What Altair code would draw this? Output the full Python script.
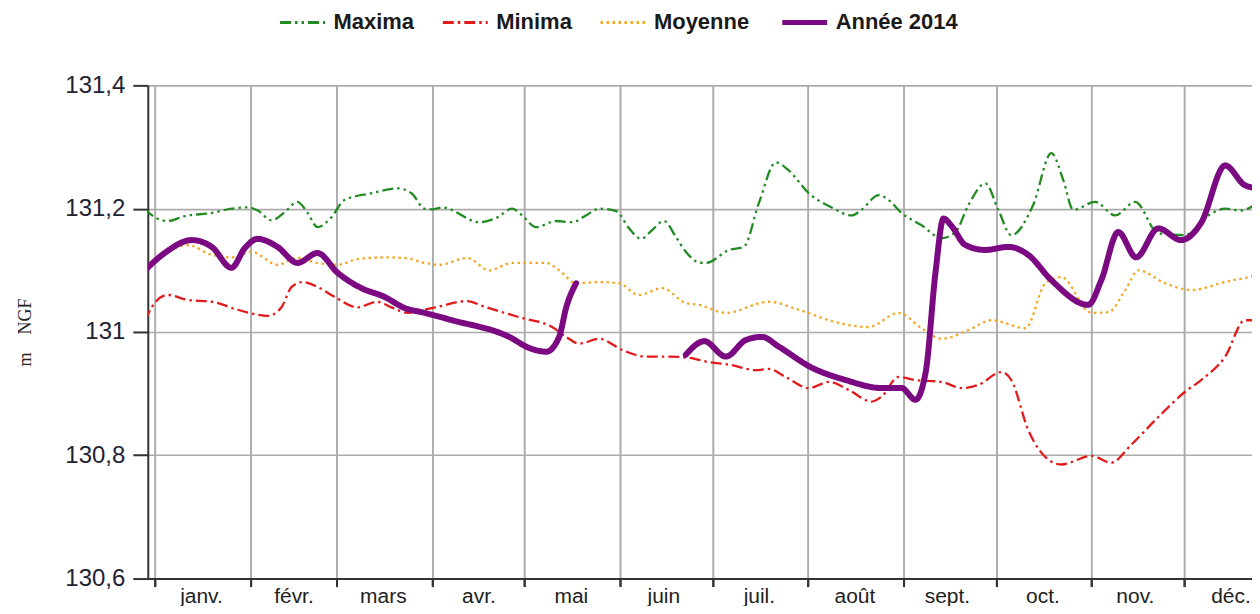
import altair as alt
import pandas as pd

SERIES = ["Maxima", "Minima", "Moyenne", "Année 2014"]
COLORS = ["#228b22", "#e31a1c", "#f2a825", "#7b0a82"]
DASHES = [[11, 4, 2.5, 4, 2.5, 4], [11, 4, 2.5, 4], [2.5, 3.5], [1, 0]]
MONTHS = ["janv.", "févr.", "mars", "avr.", "mai", "juin",
          "juil.", "août", "sept.", "oct.", "nov.", "déc."]
Y_TICKS = [130.6, 130.8, 131.0, 131.2, 131.4]

# days counted from 1 Jan 2014
max_days = [-3.2, 0, 4.2, 9.7, 18.5, 24.9, 30.1, 33.4, 37.9, 42.1, 46.3, 49.6, 52.8, 57.3,
            61.5, 70.3, 78.7, 83.3, 87.5, 90.1, 93.3, 105.3, 110.8, 116.0, 119.2, 123.7,
            130.2, 135.4, 139.9, 144.2, 149.7, 153.9, 157.8, 161.3, 165.2, 169.1, 172.3,
            176.5, 178.8, 186.3, 191.1, 196.0, 201.5, 205.7, 212.2, 219.6, 226.1, 229.3,
            234.9, 238.1, 242.3, 248.8, 255.3, 259.8, 264.0, 269.5, 273.7, 277.9, 285.0,
            290.9, 294.8, 298.0, 305.1, 311.6, 318.1, 325.6, 334.3, 341.8, 347.3, 352.4, 358.0]
max_vals = [131.200, 131.186, 131.180, 131.188, 131.193, 131.200, 131.202, 131.197, 131.181,
            131.194, 131.211, 131.193, 131.170, 131.186, 131.214, 131.225, 131.233, 131.225,
            131.200, 131.199, 131.202, 131.178, 131.185, 131.200, 131.189, 131.170, 131.180,
            131.178, 131.189, 131.200, 131.196, 131.168, 131.151, 131.165, 131.180, 131.154,
            131.130, 131.113, 131.112, 131.133, 131.138, 131.209, 131.275, 131.262, 131.225,
            131.202, 131.189, 131.198, 131.222, 131.214, 131.193, 131.173, 131.152, 131.162,
            131.206, 131.241, 131.198, 131.157, 131.206, 131.290, 131.246, 131.198, 131.211,
            131.189, 131.211, 131.160, 131.157, 131.189, 131.200, 131.197, 131.211]

min_days = [-3.2, 0, 4.2, 10.7, 18.5, 26.9, 32.4, 36.6, 41.1, 44.4, 47.9, 52.8, 58.3, 65.8,
            72.2, 76.8, 82.0, 87.5, 91.3, 101.1, 107.5, 118.2, 128.9, 133.5, 137.7, 144.2,
            151.6, 159.4, 166.8, 173.3, 179.8, 186.3, 195.0, 199.2, 204.7, 212.2, 218.7,
            225.1, 232.6, 235.8, 241.3, 246.8, 255.3, 261.7, 267.2, 274.7, 277.9, 283.4,
            289.9, 294.1, 303.9, 310.3, 316.8, 325.6, 334.3, 339.5, 347.3, 353.7, 358.0]
min_vals = [131.019, 131.047, 131.060, 131.052, 131.049, 131.036, 131.029, 131.026, 131.040,
            131.073, 131.081, 131.073, 131.057, 131.040, 131.049, 131.040, 131.031, 131.036,
            131.040, 131.050, 131.040, 131.024, 131.008, 130.992, 130.981, 130.989, 130.971,
            130.960, 130.960, 130.958, 130.951, 130.947, 130.938, 130.940, 130.927, 130.909,
            130.919, 130.906, 130.887, 130.895, 130.927, 130.922, 130.919, 130.909, 130.914,
            130.935, 130.922, 130.841, 130.793, 130.785, 130.799, 130.788, 130.817, 130.862,
            130.903, 130.922, 130.960, 131.019, 131.019]

moy_days = [-3.2, 3.2, 10.7, 18.5, 24.9, 31.4, 39.8, 46.3, 52.8, 59.3, 65.8, 74.5, 81.0, 87.5,
            92.3, 101.4, 108.5, 116.0, 127.0, 131.2, 136.7, 144.2, 150.6, 157.1, 164.6, 172.3,
            176.5, 185.3, 199.2, 208.9, 220.9, 231.6, 241.3, 248.8, 255.3, 264.0, 271.5, 282.5,
            289.0, 294.1, 303.9, 309.4, 314.9, 319.1, 327.8, 336.3, 347.3, 358.0]
moy_vals = [131.104, 131.128, 131.141, 131.125, 131.121, 131.130, 131.109, 131.120, 131.112,
            131.109, 131.118, 131.121, 131.120, 131.112, 131.109, 131.120, 131.100, 131.112,
            131.112, 131.100, 131.079, 131.081, 131.079, 131.060, 131.071, 131.047, 131.044,
            131.031, 131.049, 131.036, 131.016, 131.008, 131.031, 131.006, 130.989, 131.003,
            131.019, 131.006, 131.079, 131.089, 131.031, 131.032, 131.068, 131.100, 131.079,
            131.068, 131.081, 131.092]

a14_days_1 = [-3.2, 3.2, 12.0, 18.5, 24.9, 29.2, 33.4, 39.8, 46.3, 52.8, 59.3, 67.1, 74.5,
              81.0, 87.5, 96.5, 115.0, 121.5, 127.0, 131.2, 133.5, 136.7]
a14_vals_1 = [131.100, 131.128, 131.149, 131.138, 131.104, 131.136, 131.151, 131.138, 131.112,
              131.128, 131.096, 131.071, 131.057, 131.039, 131.031, 131.019, 130.992, 130.974,
              130.968, 130.992, 131.040, 131.079]
a14_days_2 = [172.3, 178.3, 185.3, 191.8, 197.0, 202.5, 213.2, 224.2, 235.8, 242.3, 246.8,
              250.1, 253.3, 255.9, 258.5, 263.0, 269.5, 277.0, 283.4, 290.9, 302.9, 307.1,
              312.6, 318.4, 325.6, 333.0, 339.5, 347.3, 353.7, 358.0]
a14_vals_2 = [130.963, 130.985, 130.960, 130.987, 130.992, 130.976, 130.942, 130.922, 130.909,
              130.909, 130.890, 130.934, 131.096, 131.184, 131.172, 131.141, 131.133, 131.138,
              131.125, 131.084, 131.044, 131.084, 131.162, 131.121, 131.168, 131.149, 131.177,
              131.270, 131.238, 131.233]

month_starts = [1, 32, 60, 91, 121, 152, 182, 213, 244, 274, 305, 335]  # day of year
month_mids = [16, 46, 75, 106, 136, 166, 197, 228, 258, 289, 319, 350]


def to_iso(days):
    base = pd.Timestamp("2014-01-01")
    return [(base + pd.to_timedelta(d, unit="D")).strftime("%Y-%m-%dT%H:%M:%SZ") for d in days]


def frame(days, vals, serie, seg):
    return pd.DataFrame({"date": to_iso(days), "v": vals, "serie": serie, "seg": seg})


df_ref = pd.concat([
    frame(max_days, max_vals, "Maxima", "max"),
    frame(min_days, min_vals, "Minima", "min"),
    frame(moy_days, moy_vals, "Moyenne", "moy"),
], ignore_index=True)
df_14 = pd.concat([
    frame(a14_days_1, a14_vals_1, "Année 2014", "a1"),
    frame(a14_days_2, a14_vals_2, "Année 2014", "a2"),
], ignore_index=True)
df_months = pd.DataFrame({"date": to_iso([d - 1 for d in month_mids]), "v": 131.0})

FONT = "Liberation Sans"
xscale = alt.Scale(type="utc", domain=[
    alt.DateTime(year=2013, month=12, date=29, hours=17, minutes=30, utc=True),
    alt.DateTime(year=2014, month=12, date=23, utc=True)])
yscale = alt.Scale(domain=[130.6, 131.4], nice=False, zero=False)

tick_axis = alt.Axis(
    orient="bottom", title=None, labels=False, grid=True,
    values=[alt.DateTime(year=2014, month=m + 1, date=1, utc=True) for m in range(12)],
    tickSize=8, tickColor="#333333", tickWidth=2,
    domainColor="#333333", domainWidth=2,
    gridColor="#ababab", gridWidth=1.6)
label_axis = alt.Axis(
    orient="bottom", title=None, grid=False, ticks=False, tickSize=0, domain=False,
    values=[alt.DateTime(year=2014, month=m + 1, date=d - month_starts[m] + 1, utc=True)
            for m, d in enumerate(month_mids)],
    labelExpr="['" + "','".join(MONTHS) + "'][utcmonth(datum.value)]",
    labelFont=FONT, labelFontSize=21, labelColor="#222222", labelPadding=7)
y_axis = alt.Axis(
    values=Y_TICKS, labelExpr="replace(format(datum.value, '~g'), '.', ',')",
    tickSize=15, tickColor="#333333", tickWidth=2,
    domainColor="#333333", domainWidth=2,
    gridColor="#ababab", gridWidth=1.6,
    labelFont=FONT, labelFontSize=24, labelColor="#222233", labelPadding=8,
    title="m\u2003NGF", titleFont="Liberation Serif", titleFontSize=18,
    titleFontWeight="normal", titleColor="#222222", titlePadding=30)

legend = alt.Legend(
    title=None, orient="none", legendX=144, legendY=-74, direction="horizontal",
    symbolType="stroke", symbolSize=2025,
    symbolStrokeWidth=alt.ExprRef(expr="datum.value == 'Année 2014' ? 5 : 3"),
    labelFont=FONT, labelFontSize=22, labelFontWeight="bold", labelColor="#1a1a1a",
    labelOffset=20, columnPadding=22)

color = alt.Color("serie:N", scale=alt.Scale(domain=SERIES, range=COLORS), legend=legend)
dash = alt.StrokeDash("serie:N", scale=alt.Scale(domain=SERIES, range=DASHES), legend=legend)

ref_lines = alt.Chart(df_ref).mark_line(interpolate="monotone", clip=True, strokeWidth=2.3).encode(
    x=alt.X("date:T", scale=xscale, axis=tick_axis),
    y=alt.Y("v:Q", scale=yscale, axis=y_axis),
    color=color, strokeDash=dash, detail="seg:N")

line_14 = alt.Chart(df_14).mark_line(interpolate="monotone", clip=True, strokeWidth=6,
                                     strokeCap="round", strokeJoin="round").encode(
    x=alt.X("date:T", scale=xscale, axis=tick_axis),
    y=alt.Y("v:Q", scale=yscale, axis=y_axis),
    color=color, strokeDash=dash, detail="seg:N")

month_labels = alt.Chart(df_months).mark_point(opacity=0).encode(
    x=alt.X("date:T", scale=xscale, axis=label_axis),
    y=alt.Y("v:Q", scale=yscale, axis=y_axis))

chart = alt.layer(ref_lines, line_14, month_labels).resolve_axis(x="independent").properties(
    width=1106, height=494,
    autosize=alt.AutoSizeParams(type="none"),
    padding={"left": 140, "top": 77, "right": 0, "bottom": 27},
).configure_view(strokeWidth=0)

chart.save("out.html", embed_options={"renderer": "svg", "actions": False})
